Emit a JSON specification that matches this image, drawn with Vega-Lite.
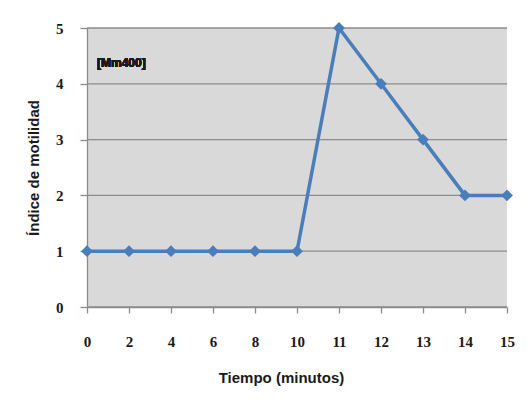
{
  "$schema": "https://vega.github.io/schema/vega-lite/v6.json",
  "width": 420,
  "height": 279,
  "autosize": "none",
  "padding": {"left": 87, "top": 28, "right": 23, "bottom": 102},
  "background": "white",
  "config": {
    "view": {"fill": "#d9d9d9", "stroke": null}
  },
  "datasets": {
    "grid": [{"g": 0}, {"g": 1}, {"g": 2}, {"g": 3}, {"g": 4}, {"g": 5}],
    "series": [
      {"t": "0", "v": 1},
      {"t": "2", "v": 1},
      {"t": "4", "v": 1},
      {"t": "6", "v": 1},
      {"t": "8", "v": 1},
      {"t": "10", "v": 1},
      {"t": "11", "v": 5},
      {"t": "12", "v": 4},
      {"t": "13", "v": 3},
      {"t": "14", "v": 2},
      {"t": "15", "v": 2}
    ]
  },
  "data": {"name": "series"},
  "layer": [
    {
      "data": {"name": "grid"},
      "mark": {"type": "rule", "color": "#8c8c8c", "strokeWidth": 1.3},
      "encoding": {
        "y": {"field": "g", "type": "quantitative"}
      }
    },
    {
      "mark": {"type": "line", "color": "#4a7ebb", "strokeWidth": 3.5},
      "encoding": {
        "x": {
          "field": "t", "type": "ordinal", "sort": null,
          "scale": {"type": "point", "padding": 0},
          "axis": {
            "labelAngle": 0, "grid": false, "ticks": true, "tickSize": 6, "tickWidth": 1.3, "tickColor": "#8c8c8c", "domain": true, "domainColor": "#8c8c8c", "domainWidth": 1.3,
            "labelPadding": 21, "labelFont": "Liberation Serif", "labelFontWeight": "bold", "labelFontSize": 15, "labelColor": "#1a1a1a",
            "title": "Tiempo (minutos)", "titlePadding": 21, "titleX": 194,
            "titleFont": "Liberation Sans", "titleFontWeight": "bold", "titleFontSize": 15, "titleColor": "#1a1a1a"
          }
        },
        "y": {
          "field": "v", "type": "quantitative",
          "scale": {"domain": [0, 5]},
          "axis": {
            "values": [0, 1, 2, 3, 4, 5], "grid": false,
            "ticks": true, "tickSize": 7, "tickWidth": 1.3, "tickColor": "#8c8c8c", "domain": true, "domainColor": "#8c8c8c", "domainWidth": 1.3,
            "labelPadding": 17, "labelFont": "Liberation Serif", "labelFontWeight": "bold", "labelFontSize": 15, "labelColor": "#1a1a1a",
            "title": "Índice de motilidad", "titlePadding": 14,
            "titleFont": "Liberation Sans", "titleFontWeight": "bold", "titleFontSize": 15, "titleColor": "#1a1a1a"
          }
        }
      }
    },
    {
      "mark": {"type": "point", "shape": "diamond", "filled": true, "color": "#4a7ebb", "size": 140, "opacity": 1},
      "encoding": {
        "x": {"field": "t", "type": "ordinal", "sort": null},
        "y": {"field": "v", "type": "quantitative"}
      }
    },
    {
      "mark": {"type": "text", "text": "[Mm400]", "align": "left", "dx": 10, "font": "Liberation Sans", "fontWeight": "bold", "fontSize": 12, "color": "#1a1a1a"},
      "encoding": {
        "x": {"datum": "0", "type": "ordinal"},
        "y": {"datum": 4.37, "type": "quantitative"}
      }
    }
  ]
}
